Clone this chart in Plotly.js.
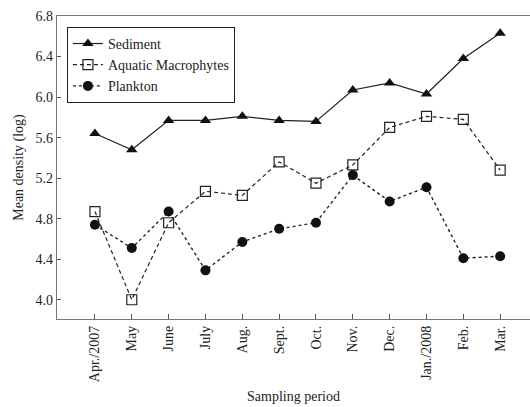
<!DOCTYPE html>
<html>
<head>
<meta charset="utf-8">
<script src="https://cdn.plot.ly/plotly-3.0.1.min.js"></script>
<style>html,body{margin:0;padding:0;background:#fff;}#chart{width:530px;height:407px;}</style>
</head>
<body>
<div id="chart"></div>
<script>
const months = ["Apr./2007","May","June","July","Aug.","Sept.","Oct.","Nov.","Dec.","Jan./2008","Feb.","Mar."];
const sediment = [5.64,5.48,5.77,5.77,5.81,5.77,5.76,6.07,6.14,6.03,6.38,6.63];
const macrophytes = [4.87,4.00,4.76,5.07,5.03,5.36,5.15,5.33,5.70,5.81,5.78,5.28];
const plankton = [4.74,4.51,4.87,4.29,4.57,4.70,4.76,5.23,4.97,5.11,4.41,4.43];

const fam = "Liberation Serif, Times New Roman, serif";
const traces = [
  {x: months, y: sediment, name: "Sediment", mode: "lines+markers", type: "scatter",
   line: {color: "#222", width: 1.2, dash: "solid"},
   marker: {symbol: "triangle-up", size: 10, color: "#111"}},
  {x: months, y: macrophytes, name: "Aquatic Macrophytes", mode: "lines+markers", type: "scatter",
   line: {color: "#222", width: 1.2, dash: "4px,3px"},
   marker: {symbol: "square-open", size: 10, color: "#222", line: {width: 1.2, color: "#222"}}},
  {x: months, y: plankton, name: "Plankton", mode: "lines+markers", type: "scatter",
   line: {color: "#222", width: 1.4, dash: "dot"},
   marker: {symbol: "circle", size: 10, color: "#111"}}
];
const layout = {
  width: 530, height: 407,
  margin: {l: 57, r: 0, t: 16, b: 88},
  paper_bgcolor: "#fff", plot_bgcolor: "#fff",
  font: {family: fam, size: 14, color: "#222"},
  showlegend: true,
  legend: {x: 0.021, y: 0.964, xanchor: "left", yanchor: "top",
           bordercolor: "#222", borderwidth: 1, bgcolor: "#fff", itemwidth: 30,
           font: {family: fam, size: 14, color: "#222"}, tracegroupgap: 0},
  xaxis: {type: "category", range: [-1.03, 11.81], showgrid: false, zeroline: false,
          showline: true, mirror: true, linecolor: "#777", linewidth: 1.2,
          ticks: "inside", ticklen: 5, tickcolor: "#555", tickangle: -90,
          tickfont: {family: fam, size: 14, color: "#222"},
          title: {text: "Sampling period", font: {family: fam, size: 14, color: "#222"}, standoff: 10}},
  yaxis: {range: [3.81, 6.8], tick0: 4.0, dtick: 0.4, tickformat: ".1f", showgrid: false, zeroline: false,
          showline: true, linecolor: "#777", linewidth: 1.2, ticks: "inside", ticklen: 4, tickcolor: "#555",
          tickfont: {family: fam, size: 14, color: "#222"},
          title: {text: "Mean density (log)", font: {family: fam, size: 14, color: "#222"}, standoff: 8}}
};
Plotly.newPlot("chart", traces, layout, {displayModeBar: false, staticPlot: true});
</script>
</body>
</html>
